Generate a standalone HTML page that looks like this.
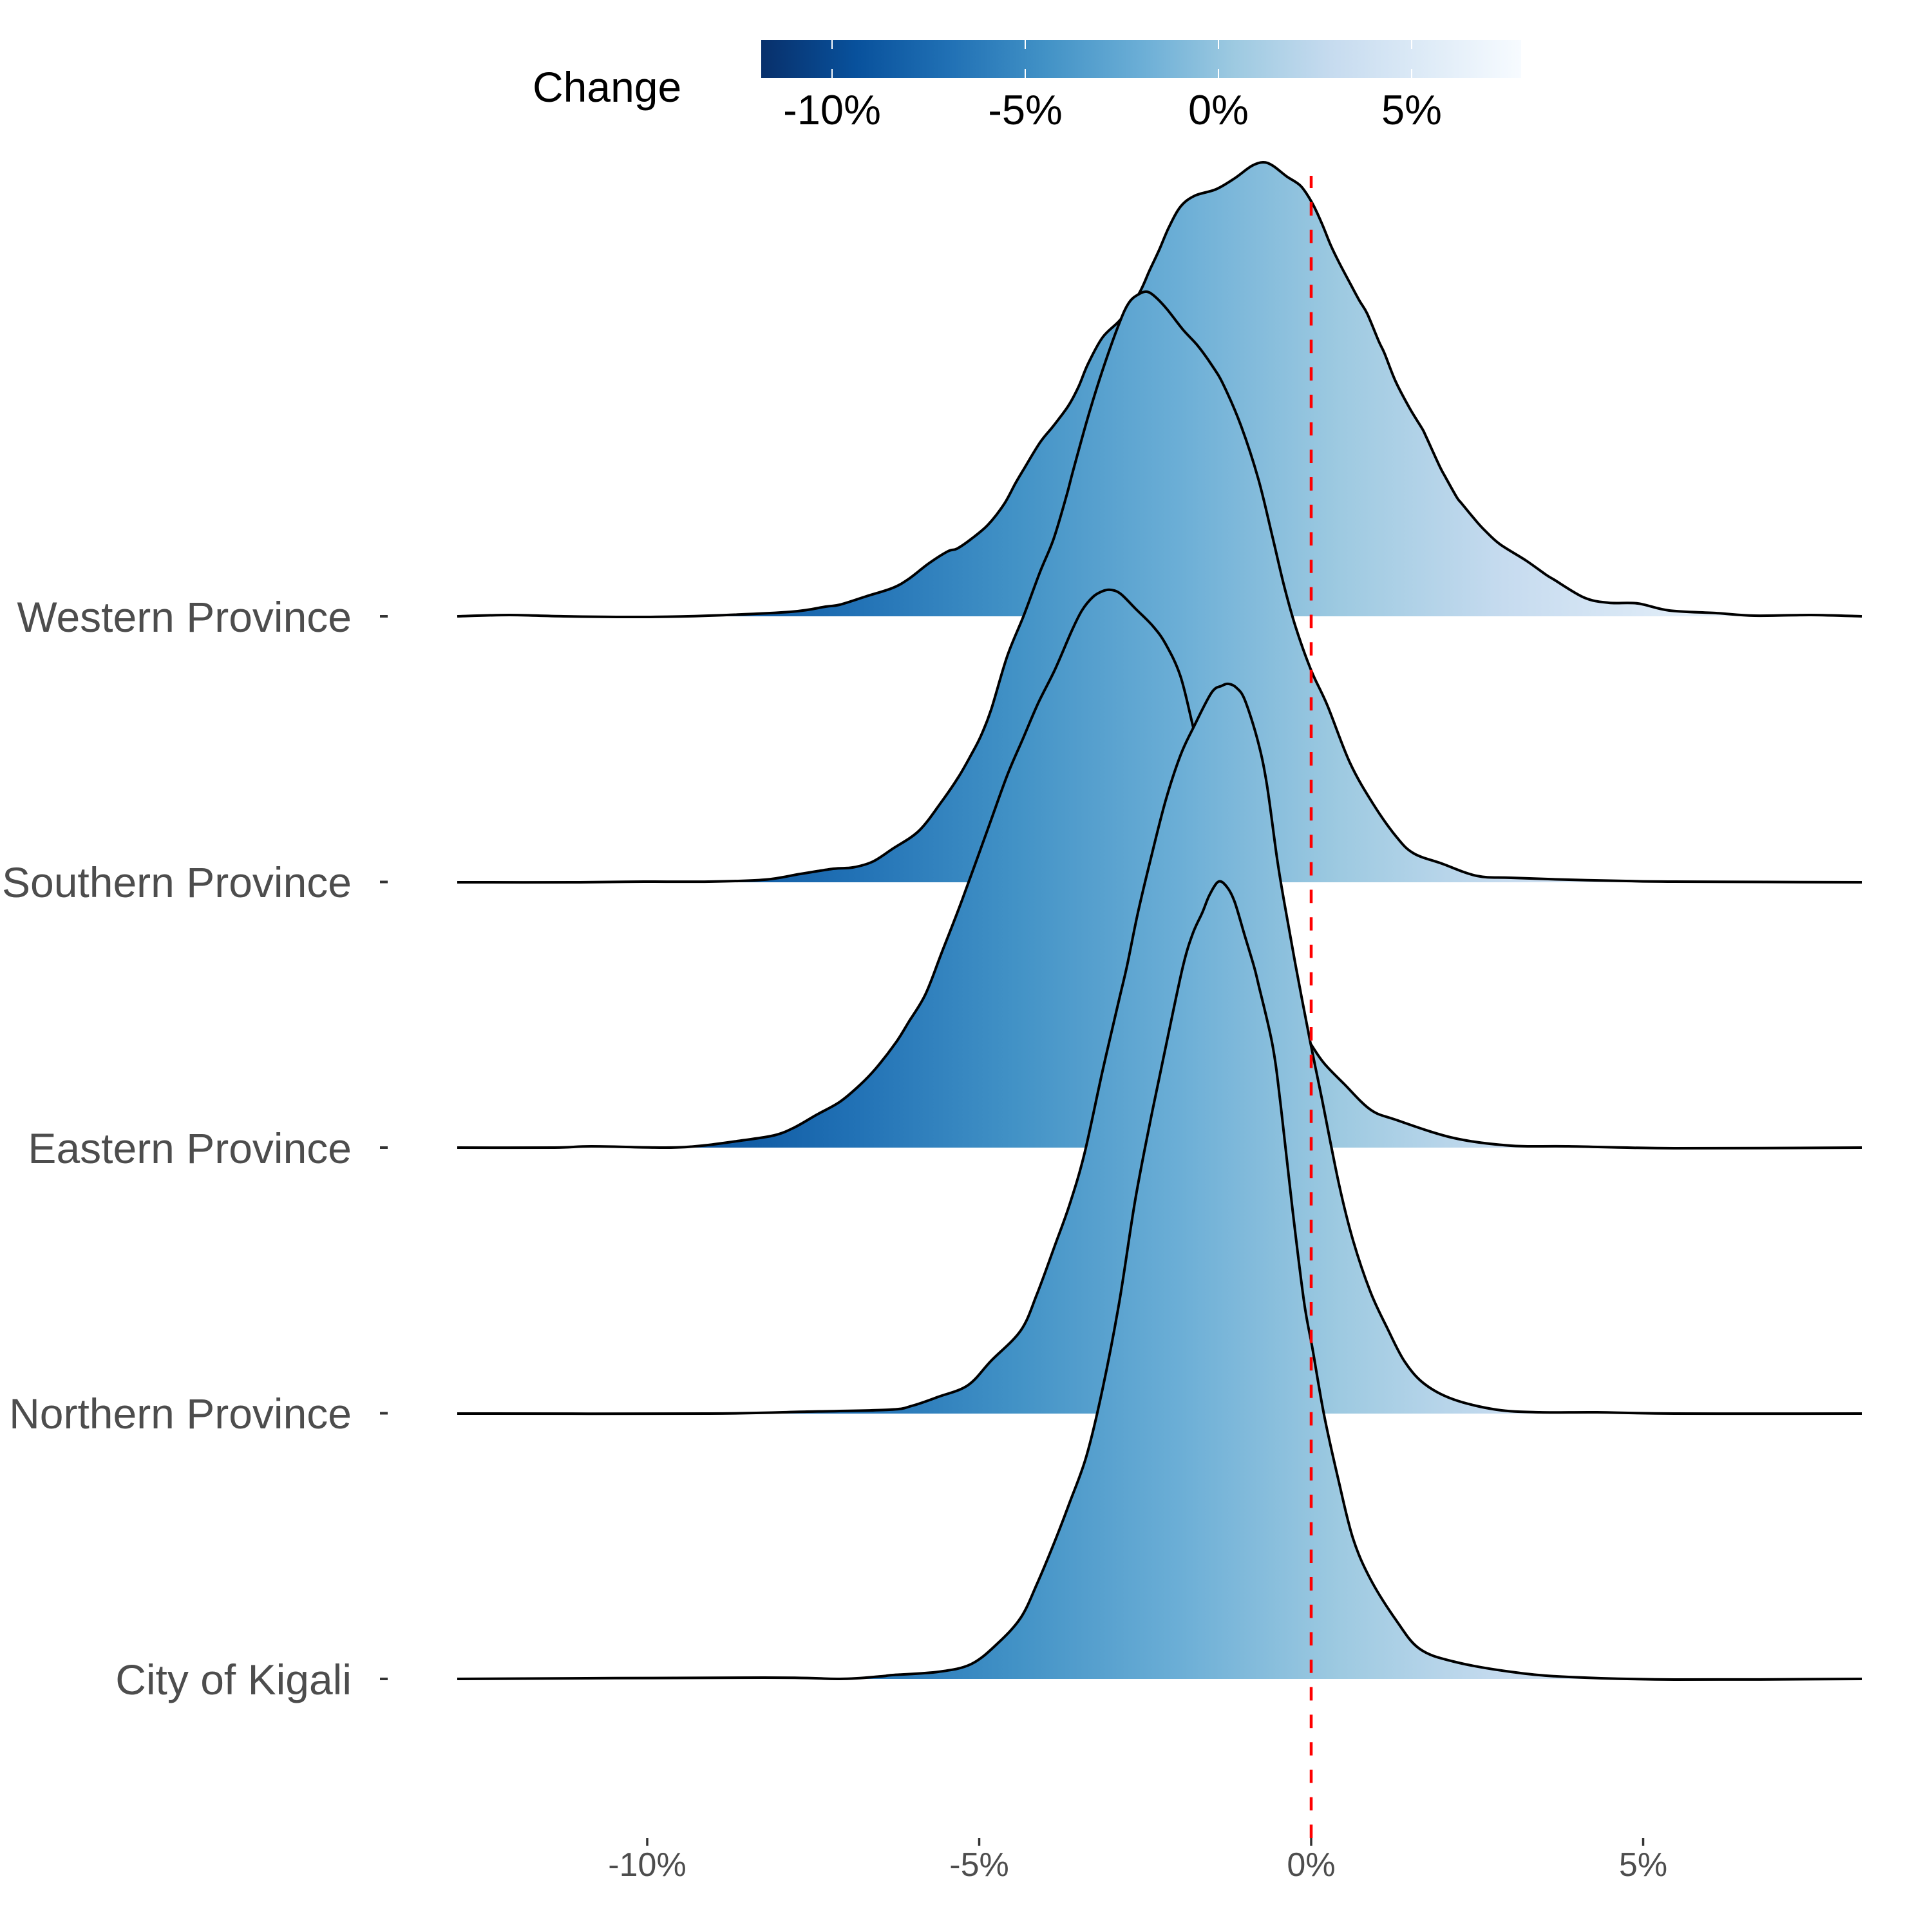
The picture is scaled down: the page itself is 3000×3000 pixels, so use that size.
<!DOCTYPE html>
<html>
<head>
<meta charset="utf-8">
<style>
html,body{margin:0;padding:0;background:#ffffff;}
svg{display:block;}
text{font-family:"Liberation Sans",Arial,sans-serif;}
</style>
</head>
<body>
<svg id="chart" width="3000" height="3000" viewBox="0 0 3000 3000" xmlns="http://www.w3.org/2000/svg">
<defs>
<linearGradient id="gfill" gradientUnits="userSpaceOnUse" x1="816" y1="0" x2="2843" y2="0">
<stop offset="0" stop-color="#08306b"/>
<stop offset="0.125" stop-color="#08519c"/>
<stop offset="0.25" stop-color="#2171b5"/>
<stop offset="0.375" stop-color="#4292c6"/>
<stop offset="0.5" stop-color="#6baed6"/>
<stop offset="0.625" stop-color="#9ecae1"/>
<stop offset="0.75" stop-color="#c6dbef"/>
<stop offset="0.875" stop-color="#deebf7"/>
<stop offset="1" stop-color="#f7fbff"/>
</linearGradient>
<linearGradient id="gbar" gradientUnits="userSpaceOnUse" x1="1182" y1="0" x2="2362" y2="0">
<stop offset="0" stop-color="#08306b"/>
<stop offset="0.125" stop-color="#08519c"/>
<stop offset="0.25" stop-color="#2171b5"/>
<stop offset="0.375" stop-color="#4292c6"/>
<stop offset="0.5" stop-color="#6baed6"/>
<stop offset="0.625" stop-color="#9ecae1"/>
<stop offset="0.75" stop-color="#c6dbef"/>
<stop offset="0.875" stop-color="#deebf7"/>
<stop offset="1" stop-color="#f7fbff"/>
</linearGradient>
</defs>
<rect x="0" y="0" width="3000" height="3000" fill="#ffffff"/>

<!-- Legend -->
<text x="827" y="158" font-size="66" fill="#000000">Change</text>
<rect x="1182" y="62" width="1180" height="59" fill="url(#gbar)"/>
<g stroke="#ffffff" stroke-width="2">
<line x1="1292" y1="62" x2="1292" y2="76"/><line x1="1292" y1="107" x2="1292" y2="121"/>
<line x1="1592" y1="62" x2="1592" y2="76"/><line x1="1592" y1="107" x2="1592" y2="121"/>
<line x1="1892" y1="62" x2="1892" y2="76"/><line x1="1892" y1="107" x2="1892" y2="121"/>
<line x1="2192" y1="62" x2="2192" y2="76"/><line x1="2192" y1="107" x2="2192" y2="121"/>
</g>
<g font-size="65" fill="#000000" text-anchor="middle">
<text x="1292" y="193">-10%</text>
<text x="1592" y="193">-5%</text>
<text x="1892" y="193">0%</text>
<text x="2192" y="193">5%</text>
</g>

<!-- Ridges -->
<g stroke-linejoin="round" stroke-linecap="butt">
<!-- Western -->
<polygon id="f1" fill="url(#gfill)" stroke="none" points="710,957 791,955 875,957 1002,958 1100,956 1228,950 1282,942 1304,939 1345,926 1386,913 1411,899 1442,875 1472,856 1486,852 1508,837 1534,815 1559,783 1577,750 1590,728 1615,687 1636,661 1659,630 1675,600 1689,566 1712,524 1740,496 1768,457 1785,420 1800,388 1815,353 1833,321 1855,304 1888,294 1917,277 1943,258 1961,252 1976,257 1998,274 2020,289 2038,316 2053,348 2066,380 2079,407 2097,441 2111,467 2123,487 2141,530 2150,549 2167,592 2189,634 2208,665 2214,677 2235,723 2244,740 2262,772 2269,781 2293,810 2306,824 2329,845 2369,870 2400,892 2413,900 2460,928 2498,936 2543,937 2592,948 2665,952 2724,956 2812,955 2891,957 2891,957 710,957"/>
<polyline id="l1" fill="none" stroke="#000000" stroke-width="4" points="710,957 791,955 875,957 1002,958 1100,956 1228,950 1282,942 1304,939 1345,926 1386,913 1411,899 1442,875 1472,856 1486,852 1508,837 1534,815 1559,783 1577,750 1590,728 1615,687 1636,661 1659,630 1675,600 1689,566 1712,524 1740,496 1768,457 1785,420 1800,388 1815,353 1833,321 1855,304 1888,294 1917,277 1943,258 1961,252 1976,257 1998,274 2020,289 2038,316 2053,348 2066,380 2079,407 2097,441 2111,467 2123,487 2141,530 2150,549 2167,592 2189,634 2208,665 2214,677 2235,723 2244,740 2262,772 2269,781 2293,810 2306,824 2329,845 2369,870 2400,892 2413,900 2460,928 2498,936 2543,937 2592,948 2665,952 2724,956 2812,955 2891,957"/>

<!-- Southern -->
<polygon id="f2" fill="url(#gfill)" stroke="none" points="710,1370 900,1370 1000,1369 1100,1369 1187,1366 1243,1357 1294,1349 1324,1347 1355,1338 1386,1318 1427,1290 1462,1245 1488,1207 1508,1172 1523,1143 1539,1102 1564,1019 1590,955 1615,888 1636,837 1656,770 1666,732 1689,649 1712,575 1738,502 1753,470 1768,457 1781,453 1794,461 1812,480 1837,512 1860,537 1883,569 1900,598 1927,661 1954,744 1976,834 1994,910 2012,974 2036,1041 2061,1095 2096,1184 2132,1248 2168,1299 2195,1325 2239,1341 2293,1360 2346,1363 2436,1366 2525,1368 2600,1369 2891,1370 2891,1370 710,1370"/>
<polyline id="l2" fill="none" stroke="#000000" stroke-width="4" points="710,1370 900,1370 1000,1369 1100,1369 1187,1366 1243,1357 1294,1349 1324,1347 1355,1338 1386,1318 1427,1290 1462,1245 1488,1207 1508,1172 1523,1143 1539,1102 1564,1019 1590,955 1615,888 1636,837 1656,770 1666,732 1689,649 1712,575 1738,502 1753,470 1768,457 1781,453 1794,461 1812,480 1837,512 1860,537 1883,569 1900,598 1927,661 1954,744 1976,834 1994,910 2012,974 2036,1041 2061,1095 2096,1184 2132,1248 2168,1299 2195,1325 2239,1341 2293,1360 2346,1363 2436,1366 2525,1368 2600,1369 2891,1370"/>

<!-- Eastern -->
<polygon id="f3" fill="url(#gfill)" stroke="none" points="710,1782 861,1782 918,1780 1033,1782 1090,1779 1151,1771 1202,1763 1233,1751 1268,1731 1304,1711 1335,1685 1360,1659 1391,1619 1411,1587 1437,1544 1462,1480 1493,1400 1534,1287 1564,1204 1588,1148 1612,1092 1638,1040 1664,980 1680,948 1697,927 1712,918 1725,916 1740,922 1763,945 1790,972 1810,1000 1833,1050 1853,1130 1880,1240 1910,1360 1950,1470 1990,1550 2034,1619 2056,1651 2087,1683 2128,1723 2168,1739 2257,1767 2346,1779 2436,1780 2600,1783 2891,1782 2891,1782 710,1782"/>
<polyline id="l3" fill="none" stroke="#000000" stroke-width="4" points="710,1782 861,1782 918,1780 1033,1782 1090,1779 1151,1771 1202,1763 1233,1751 1268,1731 1304,1711 1335,1685 1360,1659 1391,1619 1411,1587 1437,1544 1462,1480 1493,1400 1534,1287 1564,1204 1588,1148 1612,1092 1638,1040 1664,980 1680,948 1697,927 1712,918 1725,916 1740,922 1763,945 1790,972 1810,1000 1833,1050 1853,1130 1880,1240 1910,1360 1950,1470 1990,1550 2034,1619 2056,1651 2087,1683 2128,1723 2168,1739 2257,1767 2346,1779 2436,1780 2600,1783 2891,1782"/>

<!-- Northern -->
<polygon id="f4" fill="url(#gfill)" stroke="none" points="710,2195 1100,2195 1253,2192 1381,2189 1416,2183 1457,2169 1503,2151 1539,2113 1585,2066 1610,2010 1638,1934 1661,1870 1684,1791 1712,1663 1738,1551 1750,1500 1767,1417 1787,1333 1810,1243 1833,1173 1853,1130 1881,1076 1897,1065 1908,1062 1920,1068 1933,1087 1953,1150 1967,1217 1983,1333 1994,1400 2012,1500 2034,1615 2052,1703 2079,1838 2101,1926 2128,2006 2154,2062 2181,2114 2212,2149 2257,2173 2324,2189 2391,2193 2480,2193 2600,2195 2891,2195 2891,2195 710,2195"/>
<polyline id="l4" fill="none" stroke="#000000" stroke-width="4" points="710,2195 1100,2195 1253,2192 1381,2189 1416,2183 1457,2169 1503,2151 1539,2113 1585,2066 1610,2010 1638,1934 1661,1870 1684,1791 1712,1663 1738,1551 1750,1500 1767,1417 1787,1333 1810,1243 1833,1173 1853,1130 1881,1076 1897,1065 1908,1062 1920,1068 1933,1087 1953,1150 1967,1217 1983,1333 1994,1400 2012,1500 2034,1615 2052,1703 2079,1838 2101,1926 2128,2006 2154,2062 2181,2114 2212,2149 2257,2173 2324,2189 2391,2193 2480,2193 2600,2195 2891,2195"/>

<!-- City of Kigali -->
<polygon id="f5" fill="url(#gfill)" stroke="none" points="710,2607 1186,2605 1304,2607 1368,2603 1386,2601 1457,2596 1508,2584 1549,2552 1585,2512 1610,2460 1638,2393 1661,2333 1687,2261 1712,2157 1738,2022 1763,1862 1789,1727 1814,1607 1837,1500 1852,1450 1867,1417 1878,1390 1892,1369 1905,1377 1917,1400 1932,1450 1947,1500 1954,1528 1976,1623 1989,1719 2007,1878 2025,2022 2038,2094 2056,2197 2079,2301 2101,2389 2128,2452 2168,2516 2204,2560 2257,2580 2346,2596 2436,2604 2600,2608 2891,2607 2891,2607 710,2607"/>
<polyline id="l5" fill="none" stroke="#000000" stroke-width="4" points="710,2607 1186,2605 1304,2607 1368,2603 1386,2601 1457,2596 1508,2584 1549,2552 1585,2512 1610,2460 1638,2393 1661,2333 1687,2261 1712,2157 1738,2022 1763,1862 1789,1727 1814,1607 1837,1500 1852,1450 1867,1417 1878,1390 1892,1369 1905,1377 1917,1400 1932,1450 1947,1500 1954,1528 1976,1623 1989,1719 2007,1878 2025,2022 2038,2094 2056,2197 2079,2301 2101,2389 2128,2452 2168,2516 2204,2560 2257,2580 2346,2596 2436,2604 2600,2608 2891,2607"/>
</g>

<!-- Red dashed zero line (pattern starts at bottom) -->
<line x1="2036" y1="2854" x2="2036" y2="273" stroke="#ff0000" stroke-width="4.5" stroke-dasharray="20.7 22"/>

<!-- Y axis ticks and labels -->
<g stroke="#333333" stroke-width="4">
<line x1="590" y1="957" x2="602" y2="957"/>
<line x1="590" y1="1369.5" x2="602" y2="1369.5"/>
<line x1="590" y1="1782" x2="602" y2="1782"/>
<line x1="590" y1="2194.5" x2="602" y2="2194.5"/>
<line x1="590" y1="2607" x2="602" y2="2607"/>
</g>
<g font-size="66" fill="#4d4d4d" text-anchor="end">
<text x="546" y="981">Western Province</text>
<text x="546" y="1393">Southern Province</text>
<text x="546" y="1806">Eastern Province</text>
<text x="546" y="2218">Northern Province</text>
<text x="546" y="2631">City of Kigali</text>
</g>

<!-- X axis ticks and labels -->
<g stroke="#333333" stroke-width="3.5">
<line x1="1005" y1="2854" x2="1005" y2="2866"/>
<line x1="1520.5" y1="2854" x2="1520.5" y2="2866"/>
<line x1="2036" y1="2854" x2="2036" y2="2866"/>
<line x1="2551.5" y1="2854" x2="2551.5" y2="2866"/>
</g>
<g font-size="52" fill="#4d4d4d" text-anchor="middle">
<text x="1005" y="2913">-10%</text>
<text x="1520.5" y="2913">-5%</text>
<text x="2036" y="2913">0%</text>
<text x="2551.5" y="2913">5%</text>
</g>
</svg>
<script>
(function(){
  var NS="http://www.w3.org/2000/svg";
  function parse(s){
    var out=[];var parts=s.trim().split(/\s+/);
    for(var i=0;i<parts.length;i++){var xy=parts[i].split(",");out.push([parseFloat(xy[0]),parseFloat(xy[1])]);}
    return out;
  }
  function smooth(p){
    var d="M"+p[0][0]+","+p[0][1];
    for(var i=0;i<p.length-1;i++){
      var p0=p[i-1]||p[i],p1=p[i],p2=p[i+1],p3=p[i+2]||p[i+1];
      var t=1/6;
      var c1x=p1[0]+(p2[0]-p0[0])*t,c1y=p1[1]+(p2[1]-p0[1])*t;
      var c2x=p2[0]-(p3[0]-p1[0])*t,c2y=p2[1]-(p3[1]-p1[1])*t;
      d+=" C"+c1x.toFixed(2)+","+c1y.toFixed(2)+" "+c2x.toFixed(2)+","+c2y.toFixed(2)+" "+p2[0]+","+p2[1];
    }
    return d;
  }
  try{
    for(var k=1;k<=5;k++){
      var pl=document.getElementById("l"+k);
      var pg=document.getElementById("f"+k);
      if(!pl||!pg)continue;
      var pts=parse(pl.getAttribute("points"));
      var d=smooth(pts);
      var first=pts[0],last=pts[pts.length-1];
      var fp=document.createElementNS(NS,"path");
      fp.setAttribute("d",d+" L"+last[0]+","+last[1]+" L"+first[0]+","+first[1]+" Z");
      fp.setAttribute("fill","url(#gfill)");
      fp.setAttribute("stroke","none");
      pg.parentNode.replaceChild(fp,pg);
      var lp=document.createElementNS(NS,"path");
      lp.setAttribute("d",d);
      lp.setAttribute("fill","none");
      lp.setAttribute("stroke","#000000");
      lp.setAttribute("stroke-width","4");
      lp.setAttribute("stroke-linejoin","round");
      pl.parentNode.replaceChild(lp,pl);
    }
  }catch(e){}
})();
</script>
</body>
</html>
